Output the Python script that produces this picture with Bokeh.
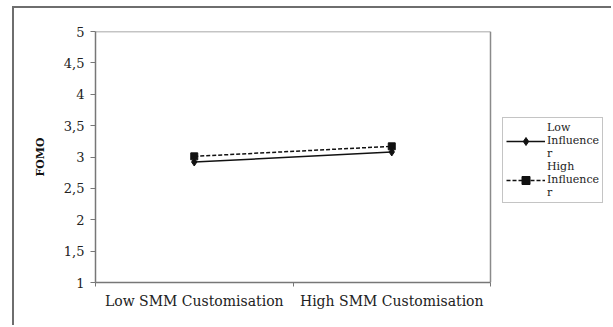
from bokeh.plotting import figure
from bokeh.models import Range1d, FixedTicker, Legend, LegendItem
from bokeh.embed import file_html
from bokeh.resources import INLINE

categories = ["Low SMM Customisation", "High SMM Customisation"]
low_influencer = [2.92, 3.08]
high_influencer = [3.01, 3.17]
y_ticks = [1, 1.5, 2, 2.5, 3, 3.5, 4, 4.5, 5]
series_names = ["Low\nInfluence\nr", "High\nInfluence\nr"]

SERIF = "DejaVu Serif"

n = len(categories)
xs = [i + 0.5 for i in range(n)]
y_lo, y_hi = y_ticks[0], y_ticks[-1]

# plot area spans 395 px of a 518 px frame; the rest holds the legend
x_end = n * 518 / 395

p = figure(width=599, height=319, output_backend="svg", toolbar_location=None,
           x_range=Range1d(0, x_end), y_range=Range1d(y_lo, y_hi),
           min_border_left=81, min_border_right=0, min_border_top=23,
           min_border_bottom=45)
p.margin = (6, 0, 0, 12)
p.styles = {"border-top": "2px solid #6e6e6e", "border-left": "2px solid #6e6e6e"}
p.grid.visible = False
p.outline_line_color = None
p.background_fill_color = "white"
p.border_fill_color = "white"

# plot-area border (top and right)
p.segment(x0=[0, n], y0=[y_hi, y_lo], x1=[n, n], y1=[y_hi, y_hi],
          line_color="#8a8a8a", line_width=1.5)

# x axis: labels at centers, tick marks at category boundaries
p.xaxis.bounds = (0, n)
p.xaxis.ticker = FixedTicker(ticks=xs, minor_ticks=list(range(n + 1)))
p.xaxis.major_label_overrides = {x: c for x, c in zip(xs, categories)}
p.xaxis.major_tick_line_color = None
p.xaxis.minor_tick_line_color = "#777777"
p.xaxis.minor_tick_out = 4
p.xaxis.minor_tick_in = 0
p.xaxis.axis_line_color = "#777777"
p.xaxis.axis_line_width = 1.5
p.xaxis.major_label_text_font = SERIF
p.xaxis.major_label_text_font_size = "14px"
p.xaxis.major_label_text_color = "#222222"
p.xaxis.major_label_standoff = 4

p.yaxis.ticker = FixedTicker(ticks=y_ticks)
p.yaxis.major_label_overrides = {t: (str(t).replace(".", ",") if t != int(t) else str(int(t))) for t in y_ticks}
p.yaxis.minor_tick_line_color = None
p.yaxis.major_tick_out = 5
p.yaxis.major_tick_in = 0
p.yaxis.major_tick_line_color = "#777777"
p.yaxis.axis_line_color = "#777777"
p.yaxis.axis_line_width = 1.5
p.yaxis.major_label_text_font = SERIF
p.yaxis.major_label_text_font_size = "13px"
p.yaxis.major_label_text_color = "#222222"
p.yaxis.major_label_standoff = 6
p.yaxis.axis_label = "FOMO"
p.yaxis.axis_label_text_font = SERIF
p.yaxis.axis_label_text_font_style = "bold"
p.yaxis.axis_label_text_font_size = "11px"
p.yaxis.axis_label_text_color = "#111111"
p.yaxis.axis_label_standoff = 14

l1 = p.line(xs, low_influencer, line_color="#111111", line_width=1.5)
m1 = p.scatter(xs, low_influencer, marker="diamond", size=8, color="#111111")
l2 = p.line(xs, high_influencer, line_color="#111111", line_width=1.5, line_dash="4 2")
m2 = p.scatter(xs, high_influencer, marker="square", size=7, color="#111111")

legend = Legend(items=[LegendItem(label=series_names[0], renderers=[l1, m1]),
                       LegendItem(label=series_names[1], renderers=[l2, m2])],
                location=(407, 79))
legend.label_text_font = SERIF
legend.label_text_font_size = "11px"
legend.label_text_line_height = 0.8
legend.label_text_color = "#222222"
legend.glyph_width = 39
legend.label_standoff = 2
legend.padding = 3
legend.spacing = 0
legend.border_line_color = "#8a8a8a"
legend.border_line_width = 1
legend.background_fill_alpha = 1
p.add_layout(legend, "center")

open("out.html", "w").write(file_html(p, INLINE))
